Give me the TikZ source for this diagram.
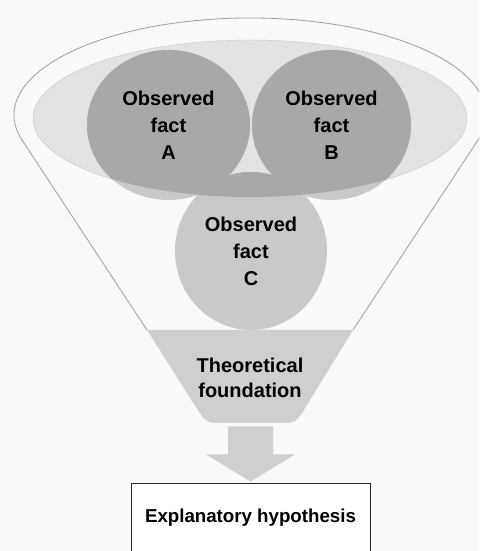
\documentclass[tikz,border=0pt]{standalone}
\usepackage{fontspec}
\setmainfont{Liberation Sans}
\usetikzlibrary{shapes,calc}
\definecolor{backgray}{gray}{0.975}
\definecolor{poolgray}{gray}{0.89}
\definecolor{factgray}{gray}{0.79}
\definecolor{factdark}{gray}{0.66}
\definecolor{spoutgray}{gray}{0.81}
\definecolor{rimgray}{gray}{0.62}
\tikzstyle{rim}=[
	draw=rimgray,
	line width=0.8pt
]
\tikzstyle{pool}=[
	ellipse,
	fill=poolgray,
	draw=gray!45,
	minimum width=434pt,
	minimum height=157pt,
	inner sep=0pt
]
\tikzstyle{fact}=[
	ellipse,
	fill=factgray,
	inner sep=0pt,
	align=center,
	font=\fontsize{20}{27}\selectfont\bfseries,
	path picture={\fill[factdark] (pool.center) ellipse [x radius=217pt, y radius=78.5pt];}
]
\tikzstyle{tlabel}=[
	align=center,
	inner sep=0pt,
	font=\fontsize{20}{25}\selectfont\bfseries
]
\tikzstyle{hyp}=[
	draw=black!85,
	line width=1pt,
	fill=white,
	minimum width=239pt,
	minimum height=68pt,
	font=\fontsize{18.7}{22}\selectfont\bfseries
]

\begin{document}
\begin{tikzpicture}[x=1pt,y=1pt]
\fill[backgray] (0,0) rectangle (479,551);
\clip (0,0) rectangle (479,551);

% funnel
\coordinate (spoutL) at (147,221);
\coordinate (spoutR) at (353,221);
\draw[rim] (spoutL) -- ([shift={(250,436)}]195:236pt and 97pt)
    arc[start angle=195, end angle=-15, x radius=236pt, y radius=97pt] -- (spoutR);
\fill[spoutgray] (spoutL) -- (spoutR) -- (308.5,148.5) .. controls (296,128) .. (281,128)
    -- (221,128) .. controls (206,128) .. (193,148.5) -- cycle;

\node[pool] (pool) at (250,432.5) {};
\node[fact, minimum width=163pt, minimum height=150pt] (factA) at (168.5,426) {Observed\\fact\\A};
\node[fact, minimum width=159pt, minimum height=150pt] (factB) at (331.5,426) {Observed\\fact\\B};
\node[fact, minimum width=152pt, minimum height=158pt] (factC) at (251,300) {Observed\\fact\\C};

\node[tlabel] (base) at (250,173.5) {Theoretical\\foundation};
\node[hyp] (hyp) at (250.5,33) {Explanatory hypothesis};

% block arrow
\coordinate (tip) at ($(hyp.north)+(0,2)$);
\fill[spoutgray] (tip) -- ++(44.5,27) -- ++(-22,0) -- ++(0,28) -- ++(-45,0) -- ++(0,-28) -- ++(-22,0) -- cycle;
\end{tikzpicture}
\end{document}
